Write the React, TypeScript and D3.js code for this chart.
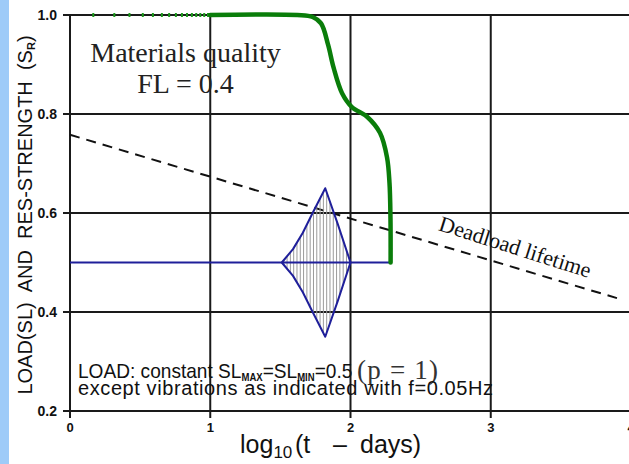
import React from 'react';
import * as d3 from 'd3';

// axes
const xTicks = [0, 1, 2, 3, 4];
const yTicks = [0.2, 0.4, 0.6, 0.8, 1.0];

// residual strength (green), log10(t) vs S_R
const strengthLogT = [1.0, 1.62, 1.73, 1.79, 1.84, 1.88, 1.94, 2.01, 2.12, 2.21, 2.26, 2.278, 2.285, 2.286];
const strengthS = [1.0, 1.0, 0.996, 0.983, 0.94, 0.893, 0.842, 0.814, 0.794, 0.762, 0.713, 0.661, 0.59, 0.5];
// early sample markers on the S = 1 line
const markerLogT = [0.166, 0.316, 0.424, 0.519, 0.591, 0.655, 0.707, 0.755, 0.798, 0.834, 0.869, 0.9, 0.929, 0.957, 0.984];

// load (blue): mean level and vibration envelope
const loadLogT = [0, 1.51, 1.59, 1.66, 1.73, 1.82, 1.91, 2.0, 2.286];
const loadAmp = [0, 0, 0.027, 0.06, 0.1, 0.15, 0.077, 0, 0];
const loadMean = 0.5;

// deadload lifetime (dashed)
const deadLogT = [0, 3.9];
const deadS = [0.758, 0.428];

const W = 629;
const H = 464;

export default function App() {
  const x = d3.scaleLinear().domain([0, 4]).range([70, 631]);
  const y = d3.scaleLinear().domain([0.2, 1.0]).range([411, 15]);

  const strength = strengthLogT.map((t, i) => [x(t), y(strengthS[i])] as [number, number]);
  const strengthPath = d3.line().curve(d3.curveCatmullRom.alpha(0.5))(strength) || '';

  const loadPath = d3.line()(loadLogT.map(t => [x(t), y(loadMean)] as [number, number])) || '';
  const upper = loadLogT.map((t, i) => [x(t), y(loadMean + loadAmp[i])] as [number, number]).slice(1, 8);
  const lower = loadLogT.map((t, i) => [x(t), y(loadMean - loadAmp[i])] as [number, number]).slice(1, 8);
  const diamond = upper.concat(lower.slice().reverse());
  const diamondPath = d3.line().curve(d3.curveLinearClosed)(diamond) || '';
  const hatchX = d3.range(x(loadLogT[1]) + 2, x(loadLogT[7]), 3.3);

  const deadPath = d3.line()(deadLogT.map((t, i) => [x(t), y(deadS[i])] as [number, number])) || '';
  const ang = (Math.atan2(y(deadS[1]) - y(deadS[0]), x(deadLogT[1]) - x(deadLogT[0])) * 180) / Math.PI + 1;

  const sans = '"Liberation Sans", Arial, sans-serif';
  const serif = '"Liberation Serif", "Times New Roman", serif';

  return (
    <svg width={W} height={H} style={{ position: 'absolute', left: 0, top: 0, background: '#fff' }}>
      <rect x={0} y={0} width={9} height={H} fill="#9ecbf8" />
      <defs>
        <clipPath id="diamondClip">
          <path d={diamondPath} />
        </clipPath>
      </defs>

      {/* grid and axes */}
      {yTicks.map(v => (
        <line key={'gy' + v} x1={63} x2={W} y1={y(v)} y2={y(v)} stroke="#1a1a1a" strokeWidth={2} />
      ))}
      {xTicks.map(v => (
        <line key={'gx' + v} x1={x(v)} x2={x(v)} y1={y(1.0)} y2={y(0.2) + 7} stroke="#1a1a1a" strokeWidth={2} />
      ))}
      {yTicks.map(v => (
        <text key={'ty' + v} x={57} y={y(v) + 5} textAnchor="end" fontFamily={sans} fontWeight="bold" fontSize={14} fill="#111">
          {v.toFixed(1)}
        </text>
      ))}
      {xTicks.map(v => (
        <text key={'tx' + v} x={x(v)} y={432} textAnchor="middle" fontFamily={sans} fontWeight="bold" fontSize={13} fill="#111">
          {v}
        </text>
      ))}

      {/* dead load lifetime */}
      <path d={deadPath} fill="none" stroke="#111" strokeWidth={2} strokeDasharray="10,7" />
      <text transform={`translate(513,254) rotate(${ang})`} textAnchor="middle" fontFamily={serif} fontSize={22} fill="#111">
        Deadload lifetime
      </text>

      {/* load with vibrations */}
      <g clipPath="url(#diamondClip)">
        {hatchX.map((hx, i) => (
          <line key={'h' + i} x1={hx} x2={hx} y1={y(loadMean + 0.16)} y2={y(loadMean - 0.16)} stroke="#9a9a9a" strokeWidth={1} />
        ))}
      </g>
      <path d={diamondPath} fill="none" stroke="#1f1f9a" strokeWidth={2} strokeLinejoin="round" />
      <path d={loadPath} fill="none" stroke="#1f1f9a" strokeWidth={2} />

      {/* residual strength */}
      {markerLogT.map((t, i) => (
        <rect key={'m' + i} x={x(t) - 1} y={y(1.0) - 2} width={2} height={4} fill="#1c9a1c" />
      ))}
      <path d={strengthPath} fill="none" stroke="#0a7d0a" strokeWidth={4.5} strokeLinecap="round" />

      {/* annotations */}
      <text x={185.5} y={62} textAnchor="middle" fontFamily={serif} fontSize={28} fill="#222">
        Materials quality
      </text>
      <text x={185.5} y={93} textAnchor="middle" fontFamily={serif} fontSize={28} fill="#222">
        FL = 0.4
      </text>

      <g transform="translate(78,378) scale(0.955,1)">
        <text x={0} y={0} fontFamily={sans} fontSize={20} fill="#111">
          LOAD: constant SL
          <tspan fontSize={10} fontWeight="bold" dy={3}>MAX</tspan>
          <tspan dy={-3}>=SL</tspan>
          <tspan fontSize={10} fontWeight="bold" dy={3}>MIN</tspan>
          <tspan dy={-3}>=0.5</tspan>
        </text>
      </g>
      <text x={357} y={379} fontFamily={serif} fontSize={27} fill="#333" textLength={81} lengthAdjust="spacing">
        (p = 1)
      </text>
      <text x={78} y={395} fontFamily={sans} fontSize={20} fill="#111" textLength={415} lengthAdjust="spacing">
        except vibrations as indicated with f=0.05Hz
      </text>

      {/* axis titles */}
      <text transform="translate(32,215) rotate(-90)" textAnchor="middle" fontFamily={sans} fontSize={20} fill="#111" xmlSpace="preserve">
        {'LOAD(SL)  AND  RES-STRENGTH  (S'}
        <tspan fontSize={11} fontWeight="bold" dy={3}>R</tspan>
        <tspan dy={-3}>)</tspan>
      </text>
      <text x={240} y={453} fontFamily={sans} fontSize={25} fill="#111">
        log
        <tspan fontSize={17} dy={5}>10</tspan>
        <tspan x={295} dy={-5}>(t</tspan>
        <tspan x={333}>{'\u2013'}</tspan>
        <tspan x={360}>days)</tspan>
      </text>
    </svg>
  );
}
